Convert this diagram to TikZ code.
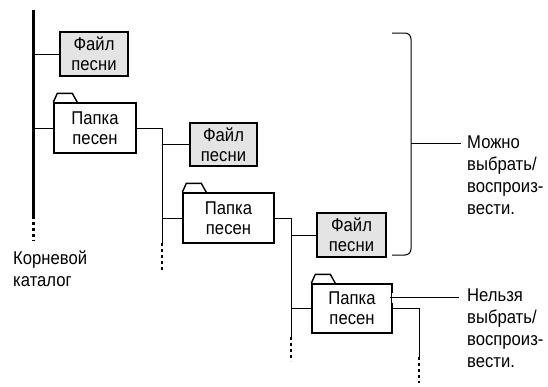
\documentclass[tikz,border=0pt]{standalone}
\usepackage{fontspec}
\setmainfont{Liberation Sans}[FakeStretch=0.9]
\usetikzlibrary{calc}
\definecolor{FileGray}{HTML}{E4E4E4}

\tikzset{
  boxtext/.style={font=\fontsize{18.5}{20}\selectfont, align=center, inner sep=0pt},
  filebox/.style={boxtext, rectangle, draw=black, line width=1.4pt, fill=FileGray, minimum width=68pt, minimum height=44pt},
  folderbox/.style={boxtext, rectangle, draw=black, line width=1.4pt, fill=white, minimum width=82pt, minimum height=50pt},
  link/.style={draw=black, line width=0.9pt},
  rootline/.style={draw=black, line width=3pt},
  dotsline/.style={draw=black, line width=1.2pt, dash pattern=on 2.5pt off 3.5pt},
  rootdots/.style={draw=black, line width=3pt, dash pattern=on 2.5pt off 3.5pt},
  bracket/.style={draw=black, line width=1pt, rounded corners=6pt},
  note/.style={font=\fontsize{18.5}{22}\selectfont, align=left, inner sep=0pt, anchor=north west}
}
\newcommand{\foldertab}[1]{\draw[black, line width=1.4pt] (#1.north west) -- ++(4,-9) -- ++(15,0) -- ++(5,9);}

\begin{document}
\begin{tikzpicture}[x=1pt, y=-1pt]
  \useasboundingbox (0,0) rectangle (548,386);

  % root directory
  \coordinate (roottop) at (33,10);
  \coordinate (rootend) at (33,216);
  \coordinate (rootfin) at (33,241);
  \draw[rootline] (roottop) -- (rootend);
  \draw[rootdots] (rootend) -- (rootfin);
  \node[note] (rootlbl) at (13,251) {Корневой\\каталог};

  % boxes
  \node[filebox] (file1) at (94,54) {Файл\\песни};
  \node[folderbox] (fold1) at (95,128) {Папка\\песен};
  \node[filebox, minimum width=67pt, minimum height=43pt] (file2) at (223.5,144.5) {Файл\\песни};
  \node[folderbox, minimum width=91pt] (fold2) at (228.5,218) {Папка\\песен};
  \node[filebox, minimum width=69pt] (file3) at (351.5,235) {Файл\\песни};
  \node[folderbox, minimum width=80pt, minimum height=49pt] (fold3) at (352,308.5) {Папка\\песен};
  \foldertab{fold1}
  \foldertab{fold2}
  \foldertab{fold3}

  % tree links
  \draw[link] (file1.west) -- (file1.west -| roottop);
  \draw[link] (fold1.west) -- (fold1.west -| roottop);

  \coordinate (v1end) at (162,243);
  \coordinate (v1fin) at (162,270);
  \draw[link] (fold1.east) -| (v1end);
  \draw[dotsline] (v1end) -- (v1fin);
  \draw[link] (file2.west) -- (file2.west -| v1end);
  \draw[link] (fold2.west) -- (fold2.west -| v1end);

  \coordinate (v2end) at (291,337);
  \coordinate (v2fin) at (291,361);
  \draw[link] (fold2.east) -| (v2end);
  \draw[dotsline] (v2end) -- (v2fin);
  \draw[link] (file3.west) -- (file3.west -| v2end);
  \draw[link] (fold3.west) -- (fold3.west -| v2end);

  \coordinate (v3end) at (419,357);
  \coordinate (v3fin) at (419,383);
  \draw[link] (fold3.east) -| (v3end);
  \draw[dotsline] (v3end) -- (v3fin);

  % bracket: selectable
  \coordinate (brtop) at (392,33);
  \coordinate (brbot) at (392,255);
  \coordinate (brmid) at (411,143);
  \coordinate (mozhno) at (461,143);
  \draw[bracket] (brtop) -| (brmid) |- (brbot);
  \draw[link] (brmid) -- (mozhno);
  \node[note] (mozhnotxt) at (467,136) {Можно\\выбрать/\\воспроиз-\\вести.};

  % pointer: not selectable
  \coordinate (nelzya) at (459,297);
  \fill[white] ($(fold3.east)+(-1,-6)$) rectangle ($(fold3.east)+(2,-16)$);
  \draw[link] ($(fold3.east)+(-3,-11.5)$) -- (nelzya);
  \node[note] (nelzyatxt) at (467,289) {Нельзя\\выбрать/\\воспроиз-\\вести.};
\end{tikzpicture}
\end{document}
